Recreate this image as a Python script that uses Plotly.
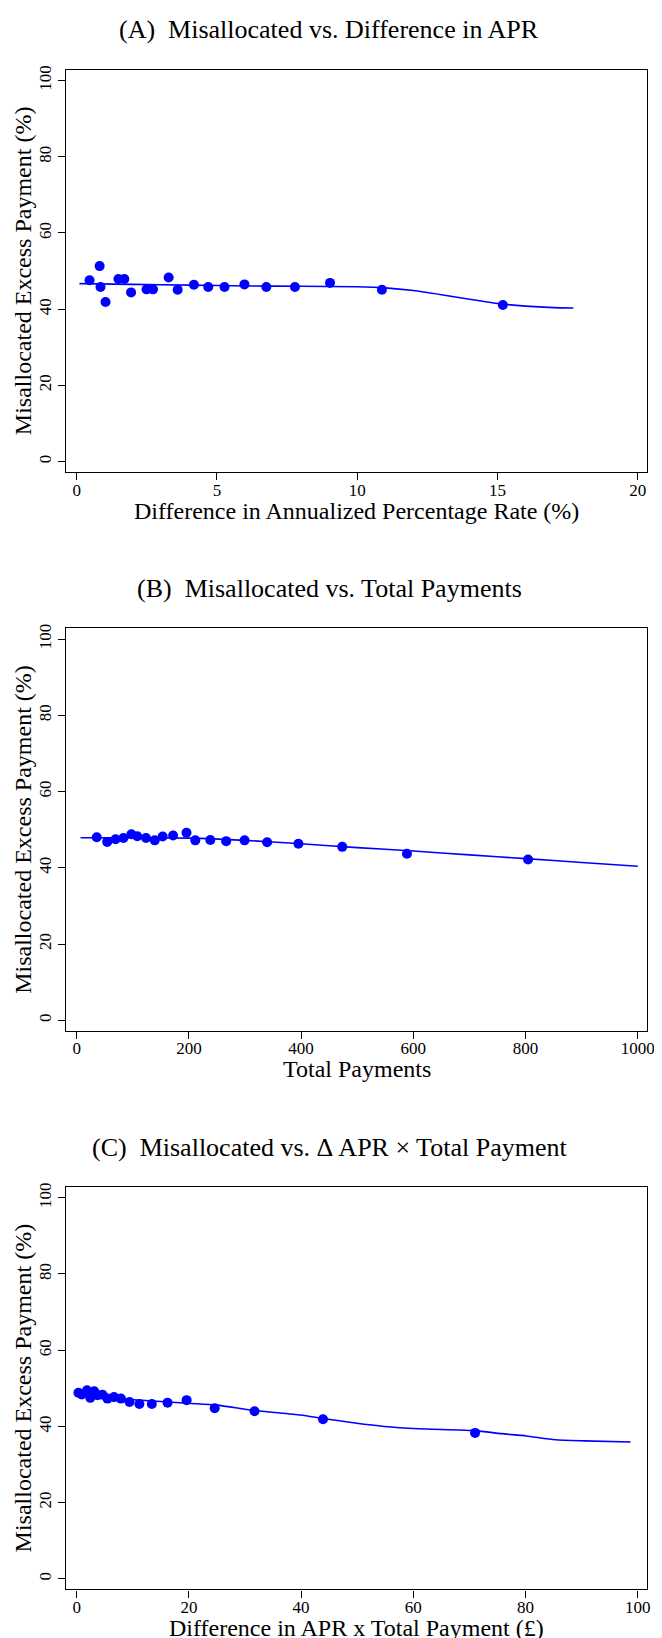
import plotly.graph_objects as go

# ---------------- data ----------------
# Panel A: Difference in APR
apr_x = [0.46, 0.82, 0.85, 1.03, 1.49, 1.70, 1.94, 2.49, 2.72, 3.28,
         3.60, 4.18, 4.69, 5.27, 5.98, 6.76, 7.78, 9.03, 10.88, 15.19]
apr_y = [47.6, 51.3, 45.8, 41.9, 47.9, 47.9, 44.4, 45.2, 45.2, 48.3,
         45.1, 46.4, 45.8, 45.8, 46.5, 45.8, 45.8, 46.9, 45.1, 41.1]
apr_fit_x = [0.1, 2, 4, 6, 8, 10, 11, 12, 13, 14, 15, 16, 17, 17.7]
apr_fit_y = [46.7, 46.5, 46.3, 46.1, 46.0, 45.9, 45.6, 44.9, 43.8, 42.6, 41.5, 40.8, 40.4, 40.3]

# Panel B: Total Payments
pay_x = [35.8, 54.4, 69.3, 83.4, 97.5, 108.0, 123.6, 139.2, 153.3, 171.9,
         195.8, 211.4, 238.2, 266.4, 299.2, 339.4, 395.2, 473.3, 588.6, 804.4]
pay_y = [48.0, 46.8, 47.5, 47.8, 48.8, 48.3, 47.8, 47.2, 48.2, 48.5,
         49.2, 47.2, 47.3, 47.0, 47.2, 46.7, 46.3, 45.5, 43.7, 42.2]
pay_fit_x = [7, 100, 200, 300, 400, 500, 600, 700, 800, 900, 1000]
pay_fit_y = [47.9, 47.9, 47.8, 47.2, 46.3, 45.3, 44.4, 43.4, 42.4, 41.4, 40.4]

# Panel C: Difference in APR x Total Payment
prod_x = [0.32, 0.91, 1.85, 2.43, 3.14, 3.73, 4.61, 5.49, 6.66, 7.89,
          9.42, 11.18, 13.4, 16.2, 19.6, 24.6, 31.7, 43.9, 71.0]
prod_y = [48.85, 48.4, 49.5, 47.5, 49.2, 48.2, 48.3, 47.3, 47.7, 47.3,
          46.4, 45.9, 45.9, 46.2, 46.9, 44.8, 44.0, 41.9, 38.3]
prod_fit_x = [0, 8.6, 19.8, 25, 31.7, 39.9, 43.9, 49.6, 54.8, 60.8, 71.0, 75.7, 80.1, 85.3, 90.5, 98.7]
prod_fit_y = [49.0, 47.2, 46.1, 45.6, 44.2, 43.0, 42.1, 40.9, 40.0, 39.4, 38.9, 38.1, 37.5, 36.5, 36.2, 35.9]

titles = ["(A)  Misallocated vs. Difference in APR",
          "(B)  Misallocated vs. Total Payments",
          "(C)  Misallocated vs. \u0394 APR \u00d7 Total Payment"]
xtitles = ["Difference in Annualized Percentage Rate (%)",
           "Total Payments",
           "Difference in APR x Total Payment (\u00a3)"]
ytitle = "Misallocated Excess Payment (%)"
x_ticks = [[0, 5, 10, 15, 20], [0, 200, 400, 600, 800, 1000], [0, 20, 40, 60, 80, 100]]
y_ticks = [0, 20, 40, 60, 80, 100]

# ---------------- layout geometry ----------------
OFF = 8  # default page body margin offsets the figure in the browser
W, H = 662 - OFF, 1638 - OFF
FONT = "Liberation Serif"
BLUE = "#0000FF"

box_left, box_right = 66.7 - OFF, 655.0 - OFF
panel_tops = [65.7 - OFF, 625.7 - OFF, 1185.7 - OFF]
panel_h = 403.6
x_ranges = [[-0.38, 20.33], [-19, 1016.5], [-1.9, 101.65]]
y_range = [-2.77, 102.88]
title_y = [26 - OFF, 586 - OFF, 1146 - OFF]
xtitle_y = [508 - OFF, 1068 - OFF, 1628 - OFF]

fig = go.Figure()
series = [(apr_x, apr_y, apr_fit_x, apr_fit_y),
          (pay_x, pay_y, pay_fit_x, pay_fit_y),
          (prod_x, prod_y, prod_fit_x, prod_fit_y)]

annotations = []
for i, (sx, sy, fx, fy) in enumerate(series):
    xa = "x" if i == 0 else f"x{i+1}"
    ya = "y" if i == 0 else f"y{i+1}"
    fig.add_trace(go.Scatter(x=fx, y=fy, mode="lines", xaxis=xa, yaxis=ya,
                             line=dict(color=BLUE, width=1.6, shape="spline", smoothing=0.6),
                             showlegend=False))
    fig.add_trace(go.Scatter(x=sx, y=sy, mode="markers", xaxis=xa, yaxis=ya,
                             marker=dict(color=BLUE, size=10, line=dict(width=0)),
                             showlegend=False))
    top = panel_tops[i]
    bottom = top + panel_h
    xkey = "xaxis" if i == 0 else f"xaxis{i+1}"
    ykey = "yaxis" if i == 0 else f"yaxis{i+1}"
    axis_common = dict(showline=True, linecolor="black", linewidth=1.2, mirror=True,
                       ticks="outside", ticklen=7, tickwidth=1, tickcolor="black",
                       showgrid=False, zeroline=False, ticklabeloverflow="allow",
                       tickfont=dict(family=FONT, size=17, color="black"))
    fig.update_layout({
        xkey: dict(domain=[box_left / W, box_right / W], range=x_ranges[i],
                   tickvals=x_ticks[i], anchor=ya, ticklabelstandoff=-5, **axis_common),
        ykey: dict(domain=[1 - bottom / H, 1 - top / H], range=y_range,
                   tickvals=y_ticks, tickangle=-90, anchor=xa, **axis_common),
    })
    annotations.append(dict(text=titles[i], x=(333 - OFF) / W, y=1 - title_y[i] / H,
                            xref="paper", yref="paper", xanchor="center", yanchor="middle",
                            showarrow=False, font=dict(family=FONT, size=26, color="black")))
    annotations.append(dict(text=xtitles[i], x=(box_left + box_right) / 2 / W,
                            y=1 - xtitle_y[i] / H, xref="paper", yref="paper",
                            xanchor="center", yanchor="middle", showarrow=False,
                            font=dict(family=FONT, size=24, color="black")))
    annotations.append(dict(text=ytitle, x=(23.5 - OFF) / W, y=1 - (top + panel_h / 2) / H,
                            xref="paper", yref="paper", xanchor="center", yanchor="middle",
                            textangle=-90, showarrow=False,
                            font=dict(family=FONT, size=24, color="black")))

fig.update_layout(width=W, height=H, margin=dict(l=0, r=0, t=0, b=0),
                  paper_bgcolor="white", plot_bgcolor="white",
                  annotations=annotations, showlegend=False)

fig.write_html("out.html")
